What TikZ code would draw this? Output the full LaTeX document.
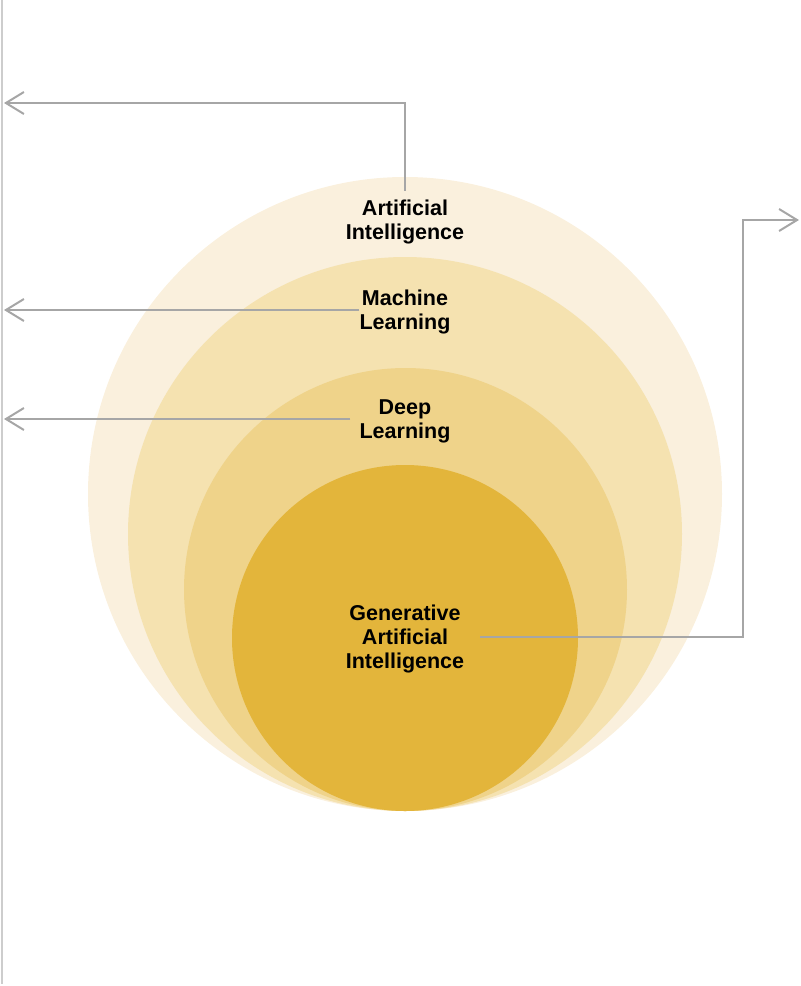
\documentclass[tikz,border=0pt]{standalone}
\usepackage{fontspec}
\setmainfont{Liberation Sans}
\usetikzlibrary{arrows.meta}
\definecolor{aicol}{RGB}{250,240,221}
\definecolor{mlcol}{RGB}{245,226,176}
\definecolor{dlcol}{RGB}{239,211,138}
\definecolor{gencol}{RGB}{227,181,59}
\definecolor{linegray}{RGB}{166,166,166}
\definecolor{framegray}{RGB}{205,205,205}
\begin{document}
\begin{tikzpicture}[x=1pt,y=-1pt,
	lbl/.style={font=\fontsize{21.5}{24}\selectfont\bfseries, align=center, inner sep=0pt},
	link/.style={draw=linegray, line width=2pt, -{Straight Barb[length=18pt,width=22pt,line width=2pt]}}]
	\useasboundingbox (0,0) rectangle (801,986);
	\draw [framegray, line width=1.2pt] (2,0) -- (2,984);
	% nested circles
	\fill [aicol] (405,494) circle (317pt);
	\fill [mlcol] (405,534) circle (277pt);
	\fill [dlcol] (405.5,589.5) circle (221.5pt);
	\fill [gencol] (405,638) circle (173pt);
	% labels
	\node [lbl] (ai) at (405,222) {Artificial\\Intelligence};
	\node [lbl] (ml) at (405,312) {Machine\\Learning};
	\node [lbl] (dl) at (405,421) {Deep\\Learning};
	\node [lbl] (gen) at (405,639) {Generative\\Artificial\\Intelligence};
	\coordinate (aiend) at (4,103);
	\coordinate (mlend) at (4,310);
	\coordinate (dlend) at (4,419);
	\coordinate (genturn) at (743,220);
	\coordinate (genend) at (799,220);
	% connectors
	\draw [link] ([yshift=9pt]ai.north) |- (aiend);
	\draw [link] (ml.west |- mlend) -- (mlend);
	\draw [link] ([xshift=-9pt]dl.west |- dlend) -- (dlend);
	\draw [link] ([xshift=16pt]gen.east |- 0,637) -| (genturn) -- (genend);
\end{tikzpicture}
\end{document}
